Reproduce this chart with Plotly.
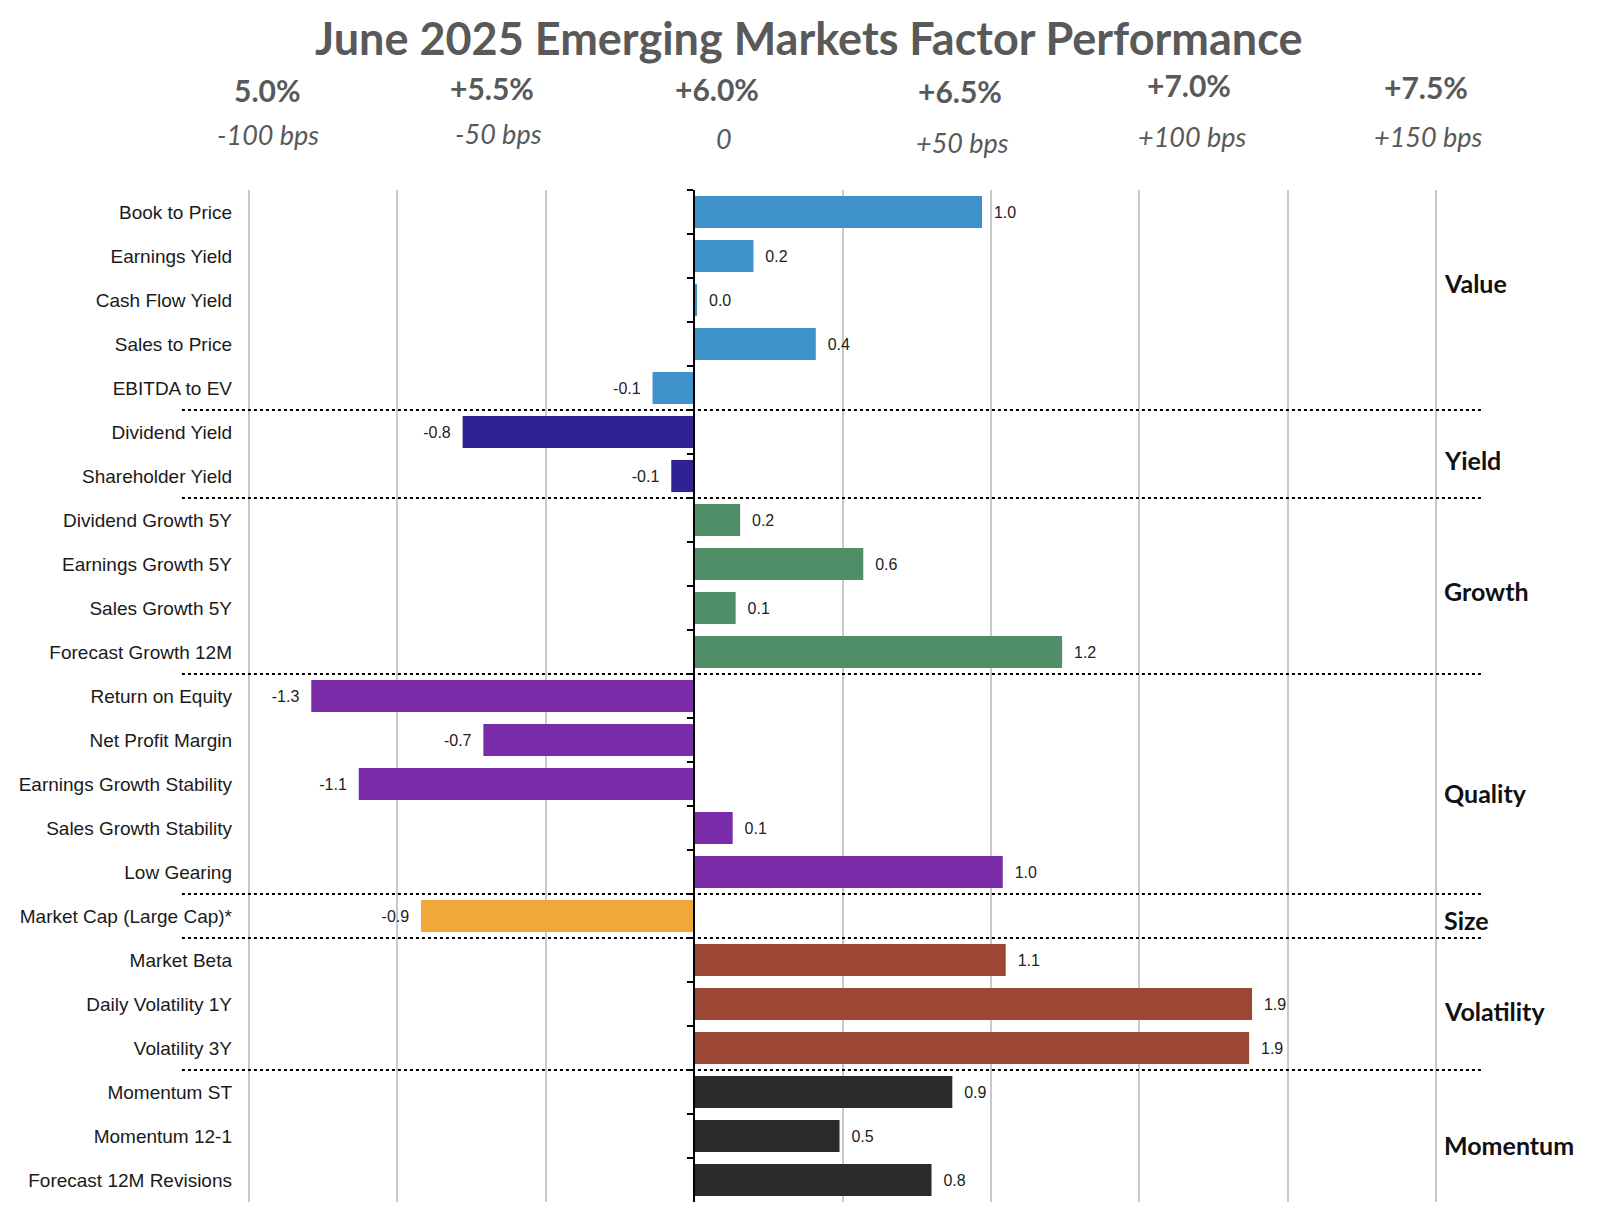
import plotly.graph_objects as go

# ---------------- data ----------------
categories = [
    "Book to Price", "Earnings Yield", "Cash Flow Yield", "Sales to Price", "EBITDA to EV",
    "Dividend Yield", "Shareholder Yield",
    "Dividend Growth 5Y", "Earnings Growth 5Y", "Sales Growth 5Y", "Forecast Growth 12M",
    "Return on Equity", "Net Profit Margin", "Earnings Growth Stability", "Sales Growth Stability", "Low Gearing",
    "Market Cap (Large Cap)*",
    "Market Beta", "Daily Volatility 1Y", "Volatility 3Y",
    "Momentum ST", "Momentum 12-1", "Forecast 12M Revisions",
]
values = [
    0.97, 0.20, 0.01, 0.41, -0.14,
    -0.78, -0.077,
    0.155, 0.57, 0.14, 1.24,
    -1.29, -0.71, -1.13, 0.13, 1.04,
    -0.92,
    1.05, 1.88, 1.87,
    0.87, 0.49, 0.80,
]
groups = ["Value", "Yield", "Growth", "Quality", "Size", "Volatility", "Momentum"]
group_sizes = [5, 2, 4, 5, 1, 3, 3]
group_colors = ["#3F91C9", "#2E2193", "#4F8E67", "#7A2CA8", "#F0A83B", "#9C4636", "#2A2A2A"]

title_text = "June 2025 Emerging Markets Factor Performance"
header_pct = ["5.0%", "+5.5%", "+6.0%", "+6.5%", "+7.0%", "+7.5%"]
header_bps = ["-100 bps", "-50 bps", "0", "+50 bps", "+100 bps", "+150 bps"]

# ---------------- layout geometry ----------------
W, H = 1610, 1218
XMIN, XMAX, XPAD = -1.5, 2.5, 0.02
GL, GR = 241, 1428                      # pixel positions of the outer gridlines
PXU = (GR - GL) / (XMAX - XMIN)
PL = GL - XPAD * PXU
PR = GR + XPAD * PXU
PT, PB = 182, 1194


def px_x(x):
    return (x - PL) / (PR - PL)


def px_y(y):
    return (PB - y) / (PB - PT)


bar_colors = []
for c, n in zip(group_colors, group_sizes):
    bar_colors += [c] * n

NB = "\u00a0\u00a0"
labels = [(NB + f"{v:.1f}") if v >= 0 else (f"{v:.1f}" + NB) for v in values]

fig = go.Figure()
fig.add_trace(go.Bar(
    x=values, y=categories, orientation="h",
    marker=dict(color=bar_colors, line=dict(width=0)),
    text=labels, texttemplate="%{text}", textposition="outside",
    textfont=dict(family="Liberation Sans, Arial", size=16, color="#222222"),
    cliponaxis=False, hoverinfo="x+y", showlegend=False,
))
# invisible trace carrying the zero-positioned axis with ticks
fig.add_trace(go.Scatter(
    x=[0] * len(categories), y=categories, yaxis="y2", mode="markers",
    marker=dict(opacity=0), hoverinfo="skip", showlegend=False,
))

n = len(categories)
xr = [XMIN - XPAD, XMAX + XPAD]
zero_pos = (0 - xr[0]) / (xr[1] - xr[0])
fig.update_layout(
    width=W, height=H,
    paper_bgcolor="white", plot_bgcolor="white",
    margin=dict(l=PL, r=W - PR, t=PT, b=H - PB),
    bargap=0.27,
    xaxis=dict(range=xr, dtick=0.5, tick0=0, showgrid=True, gridcolor="#C8C8C8", gridwidth=1.5,
               showticklabels=False, zeroline=False, showline=False, ticks=""),
    yaxis=dict(type="category", categoryorder="array", categoryarray=categories,
               range=[n - 0.5, -0.5], showgrid=False, showline=False, ticks="",
               tickfont=dict(family="Liberation Sans, Arial", size=19, color="#1a1a1a"),
               ticklabelstandoff=10),
    yaxis2=dict(type="category", categoryorder="array", categoryarray=categories,
                overlaying="y", anchor="free", position=zero_pos, side="left",
                range=[n - 0.5, -0.5], showgrid=False, showline=True, linecolor="black", linewidth=2,
                ticks="outside", tickson="boundaries", ticklen=6, tickwidth=2, tickcolor="black",
                showticklabels=False),
    font=dict(family="Liberation Sans, Arial"),
)

# dotted separators between groups
shapes = []
b = 0
for s in group_sizes[:-1]:
    b += s
    shapes.append(dict(type="line", xref="paper", yref="y", x0=px_x(174), x1=px_x(1473),
                       y0=b - 0.5, y1=b - 0.5, line=dict(color="black", width=2, dash="dot")))
fig.update_layout(shapes=shapes)

ann = []
# group labels
group_label_rows = [1.61, 5.63, 8.61, 13.2, 16.1, 18.15, 21.2]
for g, r in zip(groups, group_label_rows):
    ann.append(dict(text=f"<b>{g}</b>", xref="paper", yref="y", x=px_x(1434), y=r, xanchor="left",
                    yanchor="middle", showarrow=False,
                    font=dict(family="Lato", size=25, color="#111111")))

# title
ann.append(dict(text=f"<b>{title_text}</b>", xref="paper", yref="paper", x=px_x(801), y=px_y(1),
                xanchor="center", yanchor="top", showarrow=False,
                font=dict(family="Lato", size=45, color="#595959")))

pct_pos = [(260, 82), (484, 80), (709, 81), (952, 83), (1181, 77), (1418, 79)]
bps_pos = [(260, 126), (491, 125), (716, 130), (954, 135), (1184, 128), (1420, 128)]
for t, (x, y) in zip(header_pct, pct_pos):
    ann.append(dict(text=f"<b>{t}</b>", xref="paper", yref="paper", x=px_x(x), y=px_y(y),
                    xanchor="center", yanchor="middle", showarrow=False,
                    font=dict(family="Lato", size=30, color="#595959")))
for t, (x, y) in zip(header_bps, bps_pos):
    ann.append(dict(text=f"<i>{t}</i>", xref="paper", yref="paper", x=px_x(x), y=px_y(y),
                    xanchor="center", yanchor="middle", showarrow=False,
                    font=dict(family="Lato", size=27, color="#595959")))
fig.update_layout(annotations=ann)

fig.write_html("out.html")
